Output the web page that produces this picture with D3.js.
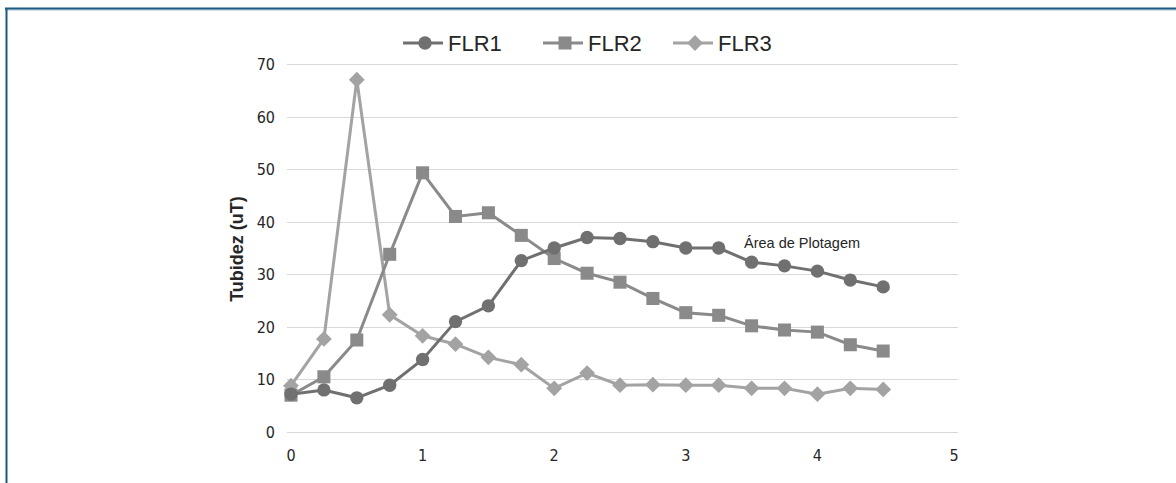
<!DOCTYPE html>
<html lang="pt">
<head>
<meta charset="utf-8">
<title>Turbidez</title>
<script src="https://cdn.jsdelivr.net/npm/d3@7"></script>
<style>
  body { margin: 0; background: #fff; }
  .tick-lbl { font-family: "DejaVu Sans Condensed", "DejaVu Sans", sans-serif; font-size: 16px; fill: #262626; }
</style>
</head>
<body>
<div id="chart"></div>
<script>
var tempo = [0, 0.25, 0.5, 0.75, 1, 1.25, 1.5, 1.75, 2, 2.25, 2.5, 2.75, 3, 3.25, 3.5, 3.75, 4, 4.25, 4.5];
var flr1 = [7.2, 8.0, 6.5, 8.9, 13.8, 21.0, 24.0, 32.6, 35.0, 37.0, 36.8, 36.2, 35.0, 35.0, 32.3, 31.6, 30.6, 28.9, 27.6];
var flr2 = [7.0, 10.5, 17.5, 33.8, 49.3, 41.0, 41.7, 37.4, 33.0, 30.2, 28.5, 25.4, 22.7, 22.2, 20.2, 19.4, 19.0, 16.6, 15.4];
var flr3 = [8.8, 17.7, 67.0, 22.3, 18.3, 16.7, 14.2, 12.8, 8.3, 11.2, 8.9, 9.0, 8.9, 8.9, 8.3, 8.3, 7.2, 8.3, 8.1];
var seriesNames = ["FLR1", "FLR2", "FLR3"];
var xTicks = [0, 1, 2, 3, 4, 5];
var yTicks = [0, 10, 20, 30, 40, 50, 60, 70];

var width = 1176, height = 483;

var svg = d3.select("#chart").append("svg")
    .attr("width", width)
    .attr("height", height);

// moldura
svg.append("line").attr("x1", 5).attr("x2", width).attr("y1", 10).attr("y2", 10)
    .attr("stroke", "#9fc0d0").attr("stroke-width", 1);
svg.append("line").attr("x1", 5).attr("x2", width).attr("y1", 8.5).attr("y2", 8.5)
    .attr("stroke", "#1b5a80").attr("stroke-width", 2);
svg.append("line").attr("x1", 6.5).attr("x2", 6.5).attr("y1", 8).attr("y2", height)
    .attr("stroke", "#1b5a80").attr("stroke-width", 2);

var x = d3.scaleLinear().domain([0, 5]).range([291, 949]);
var y = d3.scaleLinear().domain([0, 70]).range([432, 64]);

// grade
svg.append("g").selectAll("line")
    .data(yTicks)
  .enter().append("line")
    .attr("x1", 287).attr("x2", 958)
    .attr("y1", function(d) { return Math.round(y(d)) + 0.5; })
    .attr("y2", function(d) { return Math.round(y(d)) + 0.5; })
    .attr("stroke", "#d9d9d9").attr("stroke-width", 1);

// rotulos y
svg.append("g").selectAll("text")
    .data(yTicks)
  .enter().append("text")
    .attr("class", "tick-lbl")
    .attr("x", 275)
    .attr("y", function(d) { return y(d) + 6; })
    .attr("text-anchor", "end")
    .text(function(d) { return d; });

// rotulos x
svg.append("g").selectAll("text")
    .data(xTicks)
  .enter().append("text")
    .attr("class", "tick-lbl")
    .attr("x", function(d) { return x(d) + (d == 5 ? 5 : 0); })
    .attr("y", 461)
    .attr("text-anchor", "middle")
    .text(function(d) { return d; });

// titulo do eixo
svg.append("text")
    .attr("transform", "translate(243,249) rotate(-90)")
    .attr("text-anchor", "middle")
    .style("font-family", "Liberation Sans, Arial, sans-serif")
    .style("font-size", "18px")
    .style("font-weight", "bold")
    .attr("fill", "#262626")
    .text("Tubidez (uT)");

svg.append("text")
    .attr("x", 744).attr("y", 248)
    .style("font-family", "Liberation Sans, Arial, sans-serif")
    .style("font-size", "14.5px")
    .attr("fill", "#262626")
    .text("Área de Plotagem");

var colors = ["#707070", "#8a8a8a", "#a3a3a3"];
var symbols = [d3.symbolCircle, d3.symbolSquare, d3.symbolSquare];
var sizes = [140, 170, 125];
var rot = [0, 0, 45];
var allData = [flr1, flr2, flr3];

var line = d3.line()
    .x(function(d, i) { return x(tempo[i]); })
    .y(function(d) { return y(d); });

// FLR1 por cima
for (var s = 2; s >= 0; s--) {
    var g = svg.append("g");
    g.append("path")
        .datum(allData[s])
        .attr("d", line)
        .attr("fill", "none")
        .attr("stroke", colors[s])
        .attr("stroke-width", 3);
    g.selectAll("path.pt")
        .data(allData[s])
      .enter().append("path")
        .attr("class", "pt")
        .attr("transform", function(d, i) { return "translate(" + x(tempo[i]) + "," + y(d) + ") rotate(" + rot[s] + ")"; })
        .attr("d", d3.symbol().type(symbols[s]).size(sizes[s]))
        .attr("fill", colors[s]);
}

// legenda
var legX = [403, 543, 673];
var leg = svg.append("g").selectAll("g")
    .data(seriesNames)
  .enter().append("g")
    .attr("transform", function(d, i) { return "translate(" + legX[i] + ",43)"; });
leg.append("line")
    .attr("x1", 0).attr("x2", 40).attr("y1", 0).attr("y2", 0)
    .attr("stroke", function(d, i) { return colors[i]; })
    .attr("stroke-width", 3);
leg.append("path")
    .attr("transform", function(d, i) { return "translate(22,0) rotate(" + rot[i] + ")"; })
    .attr("d", function(d, i) { return d3.symbol().type(symbols[i]).size(sizes[i])(); })
    .attr("fill", function(d, i) { return colors[i]; });
leg.append("text")
    .attr("x", 45).attr("y", 8)
    .style("font-family", "Liberation Sans, Arial, sans-serif")
    .style("font-size", "22px")
    .attr("fill", "#262626")
    .text(function(d) { return d; });
</script>
</body>
</html>
